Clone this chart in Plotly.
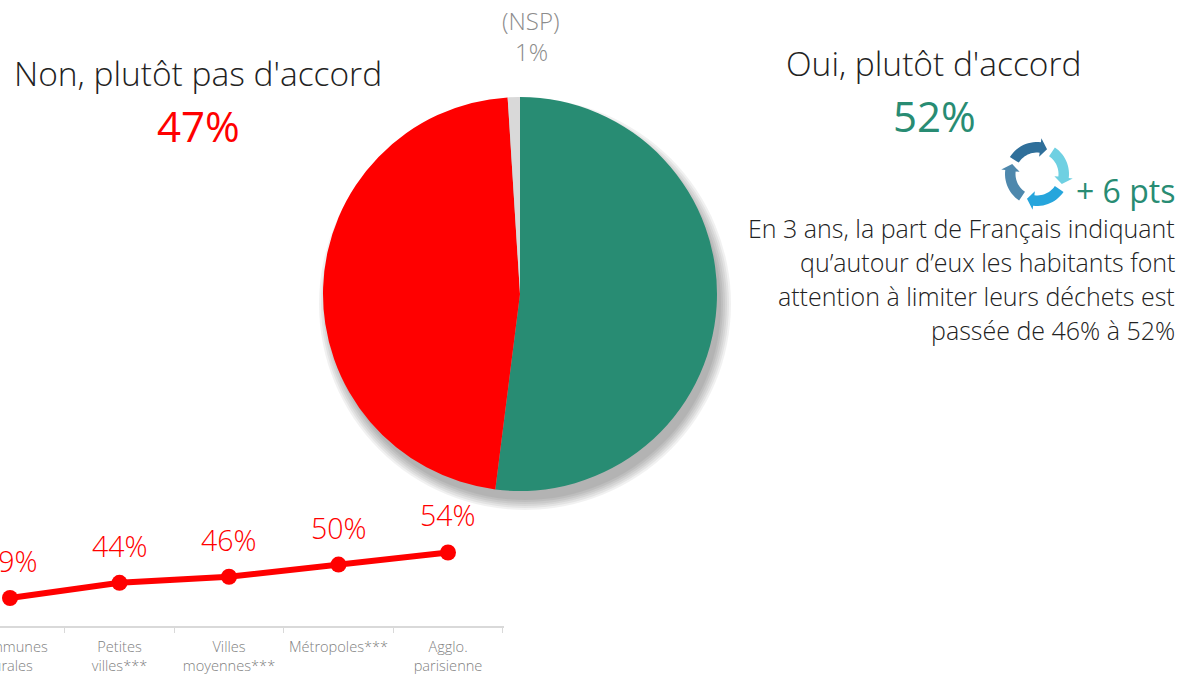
import math
import plotly.graph_objects as go

W, H = 1183, 676

pie_labels = ["Oui, plutôt d'accord", "Non, plutôt pas d'accord", "(NSP)"]
pie_values = [52, 47, 1]
pie_colors = ["#288C73", "#FF0000", "#D9D9D9"]

line_categories = ["Communes<br>rurales", "Petites<br>villes***", "Villes<br>moyennes***", "Métropoles***", "Agglo.<br>parisienne"]
line_values = [39, 44, 46, 50, 54]
line_labels = ["39%", "44%", "46%", "50%", "54%"]

paragraph = ["En 3 ans, la part de Français indiquant",
             "qu’autour d’eux les habitants font",
             "attention à limiter leurs déchets est",
             "passée de 46% à 52%"]

FONT = "Open Sans"
LIGHT = 300
RED = "#FF0000"
GREEN = "#288C73"

def px(x): return x / W
def py(y): return 1 - y / H

fig = go.Figure()

fig.add_trace(go.Pie(
    labels=pie_labels, values=pie_values, sort=False, direction="clockwise", rotation=0,
    marker=dict(colors=pie_colors, line=dict(width=0)), textinfo="none", showlegend=False,
    domain=dict(x=[px(323), px(717)], y=[py(491), py(97)]),
))

fig.add_trace(go.Scatter(
    x=line_categories, y=line_values, mode="lines+markers",
    line=dict(color=RED, width=6), marker=dict(color=RED, size=16),
    cliponaxis=False, showlegend=False, xaxis="x", yaxis="y",
))

annotations = []
def note(text, x, y, size, color, anchor="center", weight=LIGHT):
    annotations.append(dict(text=text, x=px(x), y=py(y), xref="paper", yref="paper",
                            xanchor=anchor, yanchor="middle", showarrow=False,
                            font=dict(family=FONT, size=size, color=color, weight=weight)))

note("Non, plutôt pas d'accord", 198, 73, 33.5, "#222222")
note("47%", 198, 125, 42, RED, weight=400)
note("Oui, plutôt d'accord", 933, 63, 33.5, "#222222")
note("52%", 934, 116, 42, GREEN, weight=400)
note("(NSP)", 531, 20, 24, "#8C8C8C")
note("1%", 531, 52, 24, "#8C8C8C")
note("+ 6 pts", 1177, 190, 32, GREEN, anchor="right", weight=400)
for i, line in enumerate(paragraph):
    note(line, 1177, 228 + i * 34, 25, "#222222", anchor="right")

for c, v, t in zip(line_categories, line_values, line_labels):
    annotations.append(dict(text=t, x=c, y=v, xref="x", yref="y", yshift=37, showarrow=False,
                            xanchor="center", yanchor="middle",
                            font=dict(family=FONT, size=28.5, color=RED, weight=LIGHT)))

shapes = []
for r in [206, 204, 202, 200, 198, 196]:
    shapes.append(dict(type="circle", xref="paper", yref="paper", layer="below",
                       x0=px(525 - r), x1=px(525 + r), y0=py(304 + r), y1=py(304 - r),
                       fillcolor="rgba(0,0,0,0.055)", line=dict(width=0)))

def arrow(cx, cy, start, end, color):
    ro, ri, head_o, head_i = 32, 21.5, 36, 17.5
    n = 14
    tip_span = 15
    body_end = end - tip_span
    pts = []
    for k in range(n + 1):
        a = math.radians(start + (body_end - start) * k / n)
        pts.append((cx + ro * math.sin(a), cy - ro * math.cos(a)))
    b = math.radians(body_end)
    pts.append((cx + head_o * math.sin(b), cy - head_o * math.cos(b)))
    t = math.radians(end)
    pts.append((cx + 26.75 * math.sin(t), cy - 26.75 * math.cos(t)))
    pts.append((cx + head_i * math.sin(b), cy - head_i * math.cos(b)))
    for k in range(n, -1, -1):
        a = math.radians(start + (body_end - start) * k / n)
        pts.append((cx + ri * math.sin(a), cy - ri * math.cos(a)))
    path = "M " + " L ".join(f"{px(x):.5f},{py(y):.5f}" for x, y in pts) + " Z"
    shapes.append(dict(type="path", xref="paper", yref="paper", path=path,
                       fillcolor=color, line=dict(width=0), layer="above"))

arrow(1037, 174, -58, 22, "#2F6F9A")
arrow(1037, 174, 34, 112, "#6FD0E2")
arrow(1037, 174, 124, 202, "#26A5DC")
arrow(1037, 174, 214, 292, "#4E88AD")

fig.update_layout(
    width=W, height=H, autosize=False,
    margin=dict(l=0, r=0, t=0, b=0, pad=0, autoexpand=False),
    paper_bgcolor="white", plot_bgcolor="rgba(0,0,0,0)",
    xaxis=dict(domain=[0, px(503.5)], type="category", categoryorder="array",
               categoryarray=line_categories, range=[-10 / 109.5, 493.5 / 109.5], automargin=False,
               tickson="boundaries", ticks="outside", ticklen=5, tickwidth=1, tickcolor="#D9D9D9",
               ticklabelstandoff=7,
               showline=True, linecolor="#D9D9D9", linewidth=1.5, showgrid=False, zeroline=False,
               tickfont=dict(family=FONT, size=14.6, color="#7F7F7F", weight=LIGHT)),
    yaxis=dict(domain=[py(626), py(500)], range=[29.76, 71.3], visible=False, showgrid=False, automargin=False),
    annotations=annotations, shapes=shapes,
)

fig.write_html("out.html", config={"displayModeBar": False},
               post_script="document.body.style.margin='0';document.documentElement.style.overflow='hidden';window.dispatchEvent(new Event('resize'));")
